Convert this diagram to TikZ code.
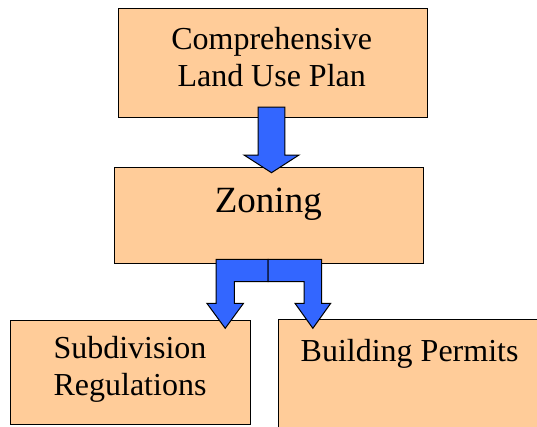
\documentclass[tikz,border=0pt]{standalone}
\usepackage{fontspec}
\setmainfont{Liberation Serif}
\usetikzlibrary{calc}
\definecolor{boxfill}{HTML}{FFCC99}
\definecolor{arrowblue}{HTML}{3366FF}
\begin{document}
\begin{tikzpicture}[x=1pt,y=-1pt,
  box/.style={draw=black,fill=boxfill,line width=1pt,inner sep=0pt,anchor=north west},
  label/.style={anchor=base,align=center,inner sep=0pt,font=\fontsize{32}{36.5}\selectfont},
  bigarrow/.style={draw=black,fill=arrowblue,line width=1pt,line join=miter}]
\useasboundingbox (0,0) rectangle (537,426);

% boxes
\node[box,minimum width=309pt,minimum height=109pt] (plan) at (118,8) {};
\node[box,minimum width=309pt,minimum height=96pt] (zoning) at (114,167) {};
\node[box,minimum width=240pt,minimum height=104pt] (subdiv) at (10,319.5) {};
\node[box,minimum width=267pt,minimum height=121pt] (building) at (278,319) {};

% texts
\node[label] (plantext) at (271.7,86) {Comprehensive\\Land Use Plan};
\node[label,font=\fontsize{37}{40}\selectfont] (zoningtext) at (268.3,212.7) {Zoning};
\node[label] (subdivtext) at (130,395) {Subdivision\\Regulations};
\node[label] (buildingtext) at (409.6,361) {Building Permits};

% arrow from the plan down to zoning
\coordinate (ptop) at ($(plan.south)+(-1.5,-11)$);
\coordinate (ptip) at ($(zoning.north)+(2.5,5.7)$);
\draw[bigarrow] ($(ptop)+(-13.3,0)$) -- ($(ptop)+(13.3,0)$)
  -- ($(ptip)+(13.3,-17.7)$) -- ($(ptip)+(27.5,-17.7)$) -- (ptip)
  -- ($(ptip)+(-27.5,-17.7)$) -- ($(ptip)+(-13.3,-17.7)$) -- cycle;

% split arrows from zoning to the two lower boxes
\coordinate (split) at ($(zoning.south)+(-0.8,-4.7)$);
\coordinate (ltip) at ($(subdiv.north east)+(-25.8,8.8)$);
\coordinate (rtip) at ($(building.north west)+(34.85,9.3)$);
\draw[bigarrow] (split) -- ($(ltip |- split)+(-9.2,0)$)
  -- ($(ltip)+(-9.2,-25)$) -- ($(ltip)+(-18.3,-25)$) -- (ltip)
  -- ($(ltip)+(18.3,-25)$) -- ($(ltip)+(9.2,-25)$)
  -- ($(ltip |- split)+(9.2,22.4)$) -- ($(split)+(0,22.4)$) -- cycle;
\draw[bigarrow] (split) -- ($(rtip |- split)+(8.85,0)$)
  -- ($(rtip)+(8.85,-25)$) -- ($(rtip)+(17.85,-25)$) -- (rtip)
  -- ($(rtip)+(-17.85,-25)$) -- ($(rtip)+(-8.85,-25)$)
  -- ($(rtip |- split)+(-8.85,22.4)$) -- ($(split)+(0,22.4)$) -- cycle;
\end{tikzpicture}
\end{document}
